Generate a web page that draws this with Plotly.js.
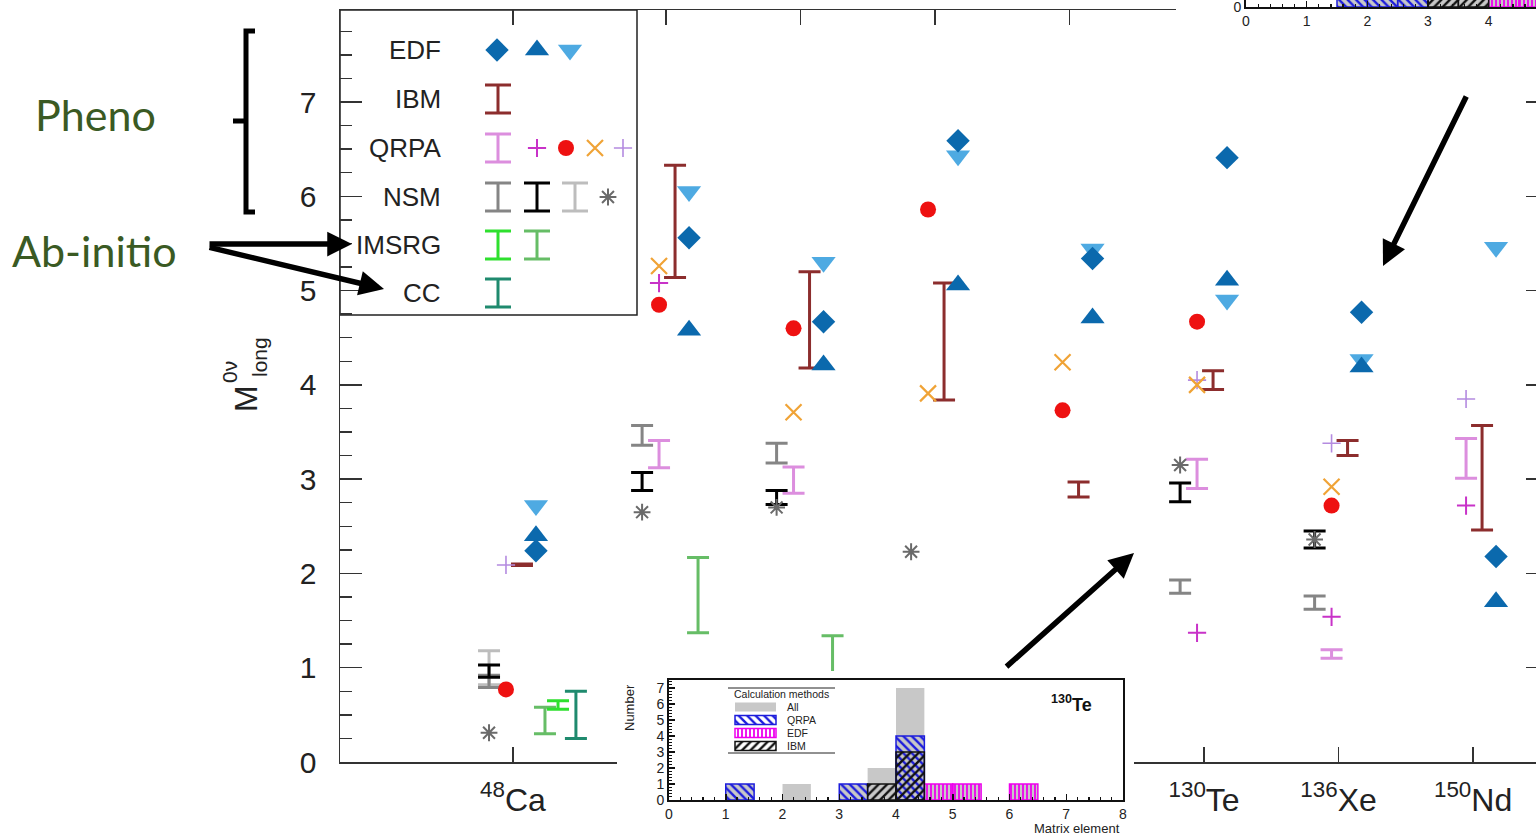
<!DOCTYPE html>
<html><head><meta charset="utf-8">
<script src="https://cdn.plot.ly/plotly-3.0.1.min.js"></script>
<style>html,body{margin:0;padding:0;background:#fff;overflow:hidden}#chart{width:1536px;height:835px}</style>
</head><body><div id="chart"></div>
<script>
// ================= DATA =================
// nuclei (x categories)
const massNumbers = ['48', '76', '82', '96', '100', '130', '136', '150'];
const elements = ['Ca', 'Ge', 'Se', 'Zr', 'Mo', 'Te', 'Xe', 'Nd'];
const nucleusPos = [0.862, 2, 3, 4, 5, 6, 7, 8];

// EDF
const edfDiamond = [2.24, 5.56, 4.67, 6.59, 5.34, 6.41, 4.77, 2.18];
const edfTriUp = [2.40, 4.58, 4.21, 5.06, 4.71, 5.11, 4.19, 1.70];
const edfTriDown = [2.72, 6.05, 5.30, 6.43, 5.44, 4.90, 4.27, 5.46];
// IBM (ranges)
const ibmLow = [2.085, 5.14, 4.18, 3.84, 2.81, 3.95, 3.25, 2.46];
const ibmHigh = [2.10, 6.33, 5.20, 5.08, 2.97, 4.15, 3.41, 3.57];
// QRPA
const qrpaBarLow = [null, 3.12, 2.85, null, null, 2.90, 1.10, 3.01];
const qrpaBarHigh = [null, 3.41, 3.13, null, null, 3.21, 1.19, 3.43];
const qrpaPlusMagenta = [null, 5.08, null, null, null, 1.37, 1.54, 2.72];
const qrpaDot = [0.77, 4.85, 4.60, 5.86, 3.73, 4.67, 2.72, null];
const qrpaCross = [null, 5.26, 3.71, 3.91, 4.24, 4.00, 2.92, null];
const qrpaPlusLavender = [2.09, null, null, null, null, 4.05, 3.38, 3.85];
// NSM
const nsmGrayLow = [0.79, 3.36, 3.17, null, null, 1.79, 1.62, null];
const nsmGrayHigh = [0.92, 3.57, 3.38, null, null, 1.93, 1.76, null];
const nsmBlackLow = [0.90, 2.88, 2.73, null, null, 2.76, 2.27, null];
const nsmBlackHigh = [1.03, 3.07, 2.88, null, null, 2.96, 2.45, null];
const nsmLightLow = [0.82, null, null, null, null, null, null, null];
const nsmLightHigh = [1.18, null, null, null, null, null, null, null];
const nsmStar = [0.31, 2.65, 2.70, 2.23, null, 3.15, 2.36, null];
// IMSRG
const imsrgALow = [0.56, null, null, null, null, null, null, null];
const imsrgAHigh = [0.65, null, null, null, null, null, null, null];
const imsrgBLow = [0.30, 1.37, 0.90, null, null, null, null, null];
const imsrgBHigh = [0.58, 2.17, 1.34, null, null, null, null, null];
// CC
const ccLow = [0.25, null, null, null, null, null, null, null];
const ccHigh = [0.75, null, null, null, null, null, null, null];

// Inset histogram: 130Te
const te130Bins = [1.25, 2.25, 3.25, 3.75, 4.25, 4.75, 5.25, 6.25];
const te130All = [1, 1, 1, 2, 7, 1, 1, 1];
const te130QRPA = [1, null, 1, null, 4, null, null, null];
const te130EDF = [null, null, null, null, null, 1, 1, 1];
const te130IBM = [null, null, null, 1, 3, null, null, null];
const insetLegendNames = ['All', 'QRPA', 'EDF', 'IBM'];
// Partial inset histogram (top right)
const xeBins = [1.75, 2.25, 2.75, 3.25, 3.75, 4.25, 4.75];
const xeAll = [1, 2, 1, 2, 1, 2, 1];
const xeQRPA = [1, 1, 1, null, null, null, null];
const xeIBM = [null, null, null, 1, 1, null, null];
const xeEDF = [null, null, null, null, null, 1, 1];

// ================= STYLE / LAYOUT =================
const W = 1536, H = 835;
const px = v => v / W;
const py = v => 1 - v / H;
const FONT = 'Liberation Sans, Arial, sans-serif';
const legendRowsY = [50, 99, 148, 197, 245, 293];
// nucleus labels hidden behind the lower inset
const labelHidden = [false, true, true, true, true, false, false, false];

const OFF = {nsm: -0.178, qrpa: -0.052, ibm: 0.067, edf: 0.171, imsrgB: 0.238, imsrgA: 0.335, cc: 0.468};

const series = [
  {kind: 'range', lo: ibmLow, hi: ibmHigh, off: OFF.ibm, color: '#8c2d2d', row: 1, lx: 498},
  {kind: 'range', lo: qrpaBarLow, hi: qrpaBarHigh, off: OFF.qrpa, color: '#dc8ede', row: 2, lx: 498},
  {kind: 'range', lo: nsmLightLow, hi: nsmLightHigh, off: OFF.nsm, color: '#bdbdbd', row: 3, lx: 575},
  {kind: 'range', lo: nsmGrayLow, hi: nsmGrayHigh, off: OFF.nsm, color: '#858585', row: 3, lx: 498},
  {kind: 'range', lo: nsmBlackLow, hi: nsmBlackHigh, off: OFF.nsm, color: '#000000', row: 3, lx: 537},
  {kind: 'range', lo: imsrgBLow, hi: imsrgBHigh, off: OFF.imsrgB, color: '#66bd66', row: 4, lx: 537},
  {kind: 'range', lo: imsrgALow, hi: imsrgAHigh, off: OFF.imsrgA, color: '#2ee02e', row: 4, lx: 498},
  {kind: 'range', lo: ccLow, hi: ccHigh, off: OFF.cc, color: '#1f8a6e', row: 5, lx: 498},
  {kind: 'point', vals: nsmStar, off: OFF.nsm, symbol: 'asterisk', color: '#6a6a6a', size: 14, lw: 2, row: 3, lx: 608},
  {kind: 'point', vals: qrpaPlusLavender, off: OFF.qrpa, symbol: 'cross-thin', color: '#b48be0', size: 13, lw: 1.6, row: 2, lx: 623},
  {kind: 'point', vals: qrpaCross, off: OFF.qrpa, symbol: 'x-thin', color: '#f0a336', size: 16, lw: 2.2, row: 2, lx: 595},
  {kind: 'point', vals: qrpaDot, off: OFF.qrpa, symbol: 'circle', color: '#ee1111', size: 16, row: 2, lx: 566},
  {kind: 'point', vals: qrpaPlusMagenta, off: OFF.qrpa, symbol: 'cross-thin', color: '#c832c8', size: 13, lw: 2, row: 2, lx: 537},
  {kind: 'point', vals: edfTriDown, off: OFF.edf, symbol: 'triangle-down', color: '#4eaae2', size: 21, row: 0, lx: 570},
  {kind: 'point', vals: edfTriUp, off: OFF.edf, symbol: 'triangle-up', color: '#0b69ad', size: 21, row: 0, lx: 537},
  {kind: 'point', vals: edfDiamond, off: OFF.edf, symbol: 'diamond', color: '#0b69ad', size: 18, row: 0, lx: 497}
];

const traces = [];
series.forEach(s => {
  const lineSym = ['cross-thin', 'x-thin', 'asterisk'].includes(s.symbol);
  if (s.kind === 'point') {
    const x = [], y = [];
    s.vals.forEach((v, i) => { if (v != null) { x.push(nucleusPos[i] + s.off); y.push(v); } });
    const marker = lineSym
      ? {symbol: s.symbol, size: s.size, color: s.color, line: {color: s.color, width: s.lw}}
      : {symbol: s.symbol, size: s.size, color: s.color, line: {width: 0}};
    traces.push({type: 'scatter', mode: 'markers', x, y, marker, xaxis: 'x', yaxis: 'y', showlegend: false, hoverinfo: 'skip'});
    traces.push({type: 'scatter', mode: 'markers', x: [s.lx], y: [legendRowsY[s.row]], marker, xaxis: 'x2', yaxis: 'y2', showlegend: false, hoverinfo: 'skip'});
  } else {
    const x = [], y = [], e = [];
    s.lo.forEach((l, i) => {
      if (l == null) return;
      x.push(nucleusPos[i] + s.off); y.push((l + s.hi[i]) / 2); e.push((s.hi[i] - l) / 2);
    });
    traces.push({type: 'scatter', mode: 'markers', x, y, marker: {size: 2, opacity: 0},
      error_y: {type: 'data', array: e, symmetric: true, color: s.color, thickness: 3, width: 11},
      xaxis: 'x', yaxis: 'y', showlegend: false, hoverinfo: 'skip'});
    traces.push({type: 'scatter', mode: 'markers', x: [s.lx], y: [legendRowsY[s.row]], marker: {size: 2, opacity: 0},
      error_y: {type: 'data', array: [14], symmetric: true, color: s.color, thickness: 3, width: 13},
      xaxis: 'x2', yaxis: 'y2', showlegend: false, hoverinfo: 'skip'});
  }
});

// histogram styles
const hAll = {color: '#c8c8c8', line: {width: 0}};
const hQRPA = {color: 'rgba(0,0,0,0)', line: {color: '#1c1cdc', width: 1.5},
  pattern: {shape: '\\', fgcolor: '#1c1cdc', bgcolor: 'rgba(0,0,0,0)', size: 6, solidity: 0.4}};
const hEDF = {color: 'rgba(0,0,0,0)', line: {color: '#ee00ee', width: 1.5},
  pattern: {shape: '|', fgcolor: '#ee00ee', bgcolor: 'rgba(0,0,0,0)', size: 4, solidity: 0.45}};
const hIBM = {color: 'rgba(0,0,0,0)', line: {color: '#111', width: 1.5},
  pattern: {shape: '/', fgcolor: '#111', bgcolor: 'rgba(0,0,0,0)', size: 6, solidity: 0.4}};
const histStyles = [hAll, hQRPA, hEDF, hIBM];

function hist(xs, ys, marker, name, ax) {
  return {type: 'bar', x: xs, y: ys, width: 0.5, marker, name, xaxis: 'x' + ax, yaxis: 'y' + ax,
    showlegend: false, hoverinfo: 'skip'};
}
[te130All, te130QRPA, te130EDF, te130IBM].forEach((d, i) => traces.push(hist(te130Bins, d, histStyles[i], insetLegendNames[i], 3)));
[xeAll, xeQRPA, xeEDF, xeIBM].forEach((d, i) => traces.push(hist(xeBins, d, histStyles[i], insetLegendNames[i], 4)));

// inset legend swatches (own little subplot in pixel units)
const insetLegendRows = [707, 720, 733, 746];
insetLegendNames.forEach((n, i) => traces.push({type: 'bar', orientation: 'h', y: [insetLegendRows[i]], x: [41], base: [735],
  width: 9, marker: histStyles[i], xaxis: 'x6', yaxis: 'y6', showlegend: false, hoverinfo: 'skip'}));

// right-side tick overlay axis
traces.push({type: 'scatter', x: [], y: [], xaxis: 'x', yaxis: 'y5', showlegend: false});

const AX = '#333';
const tickText = massNumbers.map((m, i) => labelHidden[i] ? '' : `<sup>${m}</sup>${elements[i]}`);

const insetAxis = {
  showline: true, mirror: true, linecolor: '#111', linewidth: 2, ticks: 'inside', ticklen: 6,
  tickwidth: 1.5, tickcolor: '#111', dtick: 1, tick0: 0, showgrid: false, zeroline: false,
  minor: {dtick: 0.2, ticks: 'inside', ticklen: 3, tickwidth: 1.2, tickcolor: '#111'},
  tickfont: {family: FONT, size: 14, color: '#222'}, fixedrange: true, ticklabeloverflow: 'allow'
};

const shapes = [
  // legend box of main chart
  {type: 'rect', xref: 'paper', yref: 'paper', x0: px(340), x1: px(637), y0: py(315), y1: py(10),
    fillcolor: '#fff', line: {color: '#222', width: 1.5}, layer: 'below'},
  // white covers for insets (drawn above main plot)
  {type: 'rect', xref: 'x2', yref: 'y2', x0: 617, x1: 1134, y0: 671, y1: 836, fillcolor: '#fff', line: {width: 0}, layer: 'below'},
  {type: 'rect', xref: 'x2', yref: 'y2', x0: 1176, x1: 1537, y0: -1, y1: 32, fillcolor: '#fff', line: {width: 0}, layer: 'below'},
  // inset legend lines
  {type: 'line', xref: 'paper', yref: 'paper', x0: px(728), x1: px(835), y0: py(688), y1: py(688), line: {color: '#222', width: 1}, layer: 'above'},
  {type: 'line', xref: 'paper', yref: 'paper', x0: px(728), x1: px(835), y0: py(753), y1: py(753), line: {color: '#222', width: 1}, layer: 'above'},
  // brace
  {type: 'path', xref: 'paper', yref: 'paper', layer: 'above',
    path: `M ${px(255)},${py(31)} L ${px(246)},${py(31)} L ${px(246)},${py(212)} L ${px(255)},${py(212)} M ${px(246)},${py(121)} L ${px(233)},${py(121)}`,
    line: {color: '#000', width: 5}}
];

const annotations = [];
function txt(x, y, text, size, opts) {
  annotations.push(Object.assign({xref: 'paper', yref: 'paper', x: px(x), y: py(y), text, showarrow: false,
    xanchor: 'center', yanchor: 'middle', font: {family: FONT, size, color: '#222'}}, opts || {}));
}
const legendLabels = ['EDF', 'IBM', 'QRPA', 'NSM', 'IMSRG', 'CC'];
legendLabels.forEach((t, i) => txt(443, legendRowsY[i], t, 26, {xanchor: 'right'}));

// y-axis title pieces
txt(246, 399, 'M', 32, {textangle: -90});
txt(229, 372, '0ν', 21, {textangle: -90});
txt(259, 357, 'long', 21, {textangle: -90});

// side texts
txt(95, 115, 'Pheno', 42, {font: {family: 'Lato, sans-serif', size: 43, color: '#3a5a23'}});
txt(94, 251, 'Ab-initio', 42, {font: {family: 'Lato, sans-serif', size: 43, color: '#3a5a23'}});

// inset texts
txt(1071, 703, '<b><sup>130</sup>Te</b>', 18, {font: {family: FONT, size: 18, color: '#111'}});
txt(629, 708, 'Number', 13, {textangle: -90});
txt(1122, 828, 'Matrix element', 13, {xanchor: 'right'});
txt(732, 694, 'Calculation methods', 10.5, {xanchor: 'left'});
insetLegendNames.forEach((n, i) => txt(785, insetLegendRows[i], n, 10.5, {xanchor: 'left'}));

// arrows: [tipX, tipY, tailX, tailY]
const arrows = [[352, 244, 208, 244], [384, 289, 208, 247], [1134, 553, 1005, 668], [1383, 266, 1467, 95]];
arrows.forEach(a => annotations.push({xref: 'paper', yref: 'paper', x: px(a[0]), y: py(a[1]), ax: a[2] - a[0], ay: a[3] - a[1],
  text: '', showarrow: true, arrowhead: 2, arrowsize: 0.9, arrowwidth: 5.5, arrowcolor: '#000', standoff: 0}));

const layout = {
  width: W, height: H, margin: {l: 0, r: 0, t: 0, b: 0},
  paper_bgcolor: '#fff', plot_bgcolor: 'rgba(0,0,0,0)',
  barmode: 'overlay', showlegend: false,
  xaxis: {domain: [px(340), 1], range: [-0.424, 8.468], anchor: 'y', tickvals: nucleusPos, ticktext: tickText,
    ticks: 'inside', ticklen: 15, tickwidth: 1.5, tickcolor: AX, showline: true, linecolor: AX, linewidth: 1.5,
    mirror: 'ticks', showgrid: false, zeroline: false, ticklabelstandoff: 9,
    tickfont: {family: FONT, size: 32, color: '#222'}, fixedrange: true},
  yaxis: {domain: [py(762), py(10)], range: [0, 7.976], anchor: 'x', dtick: 1, tick0: 0,
    ticks: 'inside', ticklen: 22, tickwidth: 1.5, tickcolor: AX, showline: true, linecolor: AX, linewidth: 1.5,
    minor: {dtick: 0.25, ticks: 'inside', ticklen: 12, tickwidth: 1.5, tickcolor: AX},
    showgrid: false, zeroline: false, ticklabelstandoff: 16,
    tickfont: {family: FONT, size: 30, color: '#222'}, fixedrange: true},
  yaxis5: {overlaying: 'y', side: 'right', anchor: 'x', range: [0, 7.976], dtick: 1, tick0: 0, ticks: 'inside',
    ticklen: 10, tickwidth: 1.5, tickcolor: AX, showticklabels: false, showline: false, showgrid: false, zeroline: false, fixedrange: true},
  xaxis2: {domain: [0, 1], range: [0, W], anchor: 'y2', visible: false, fixedrange: true},
  yaxis2: {domain: [0, 1], range: [H, 0], anchor: 'x2', visible: false, fixedrange: true},
  xaxis3: Object.assign({}, insetAxis, {domain: [px(669), px(1123)], range: [0, 8], anchor: 'y3'}),
  yaxis3: Object.assign({}, insetAxis, {domain: [py(800), py(680)], range: [0, 7.5], anchor: 'x3'}),
  xaxis4: Object.assign({}, insetAxis, {domain: [px(1246), 1], range: [0, 4.78], anchor: 'y4'}),
  yaxis4: Object.assign({}, insetAxis, {domain: [py(7), 1], range: [-0.002, 0.15], anchor: 'x4'}),
  xaxis6: {domain: [px(728), px(835)], range: [728, 835], anchor: 'y6', visible: false, fixedrange: true},
  yaxis6: {domain: [py(753), py(688)], range: [753, 688], anchor: 'x6', visible: false, fixedrange: true},
  shapes, annotations
};

Plotly.newPlot('chart', traces, layout, {staticPlot: true, displayModeBar: false});
</script>
</body></html>
